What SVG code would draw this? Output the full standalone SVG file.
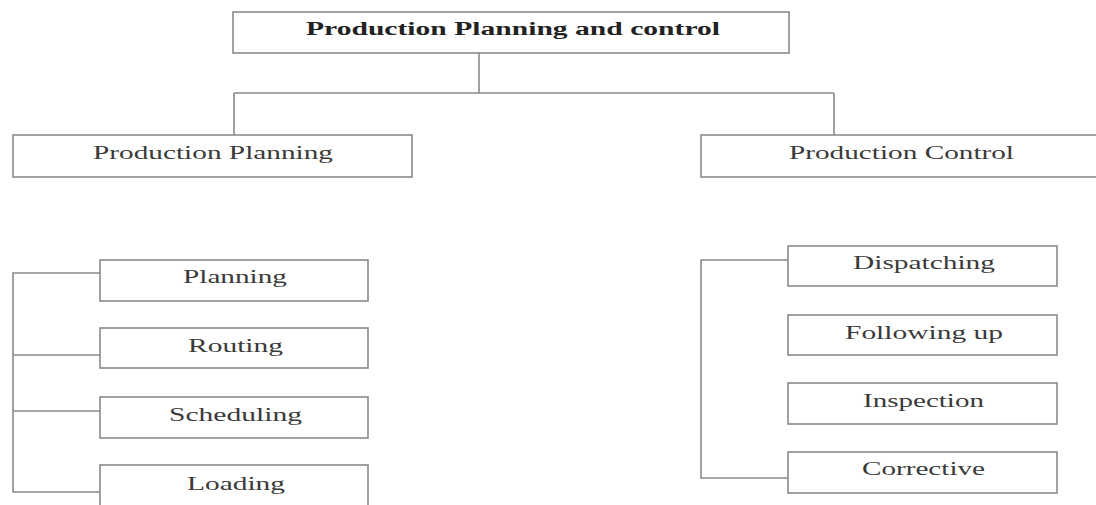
<svg xmlns="http://www.w3.org/2000/svg" width="1096" height="505" viewBox="0 0 1096 505">
  <style>
    .box { fill: #ffffff; stroke: #8a8a8a; stroke-width: 1.6; }
    .link { fill: none; stroke: #8a8a8a; stroke-width: 1.6; }
    .lbl { font-family: "Liberation Serif", "Times New Roman", serif; font-size: 19px; fill: #3a3a3a; }
    .title { font-family: "Liberation Serif", "Times New Roman", serif; font-size: 18px; font-weight: bold; fill: #222222; }
  </style>
  <rect width="1096" height="505" fill="#ffffff"/>

  <!-- tree connectors -->
  <g id="connectors">
    <path class="link" d="M479,53 V93"/>
    <path class="link" d="M234,93 H834"/>
    <path class="link" d="M234,93 V135"/>
    <path class="link" d="M834,93 V135"/>
    <!-- planning branch -->
    <path class="link" d="M100,273 H13 V492 H100"/>
    <path class="link" d="M13,355 H100"/>
    <path class="link" d="M13,411 H100"/>
    <!-- control branch -->
    <path class="link" d="M788,260 H701 V478 H788"/>
  </g>

  <g id="root">
    <rect class="box" x="233" y="12" width="556" height="41"/>
    <text class="title" x="306" y="35" textLength="414" lengthAdjust="spacingAndGlyphs">Production Planning and control</text>
  </g>

  <g id="production-planning">
    <rect class="box" x="13" y="135" width="399" height="42"/>
    <text class="lbl" x="93" y="159" textLength="240" lengthAdjust="spacingAndGlyphs">Production Planning</text>
  </g>

  <g id="production-control">
    <rect class="box" x="701" y="135" width="420" height="42"/>
    <text class="lbl" x="789" y="159" textLength="225" lengthAdjust="spacingAndGlyphs">Production Control</text>
  </g>

  <g id="planning">
    <rect class="box" x="100" y="260" width="268" height="41"/>
    <text class="lbl" x="183" y="283" textLength="104" lengthAdjust="spacingAndGlyphs">Planning</text>
  </g>

  <g id="routing">
    <rect class="box" x="100" y="328" width="268" height="40"/>
    <text class="lbl" x="188" y="352" textLength="95" lengthAdjust="spacingAndGlyphs">Routing</text>
  </g>

  <g id="scheduling">
    <rect class="box" x="100" y="397" width="268" height="41"/>
    <text class="lbl" x="169" y="421" textLength="133" lengthAdjust="spacingAndGlyphs">Scheduling</text>
  </g>

  <g id="loading">
    <rect class="box" x="100" y="465" width="268" height="50"/>
    <text class="lbl" x="187" y="490" textLength="98" lengthAdjust="spacingAndGlyphs">Loading</text>
  </g>

  <g id="dispatching">
    <rect class="box" x="788" y="246" width="269" height="40"/>
    <text class="lbl" x="853" y="269" textLength="142" lengthAdjust="spacingAndGlyphs">Dispatching</text>
  </g>

  <g id="following-up">
    <rect class="box" x="788" y="315" width="269" height="40"/>
    <text class="lbl" x="845" y="339" textLength="158" lengthAdjust="spacingAndGlyphs">Following up</text>
  </g>

  <g id="inspection">
    <rect class="box" x="788" y="383" width="269" height="41"/>
    <text class="lbl" x="863" y="407" textLength="121" lengthAdjust="spacingAndGlyphs">Inspection</text>
  </g>

  <g id="corrective">
    <rect class="box" x="788" y="452" width="269" height="41"/>
    <text class="lbl" x="862" y="475" textLength="123" lengthAdjust="spacingAndGlyphs">Corrective</text>
  </g>
</svg>
